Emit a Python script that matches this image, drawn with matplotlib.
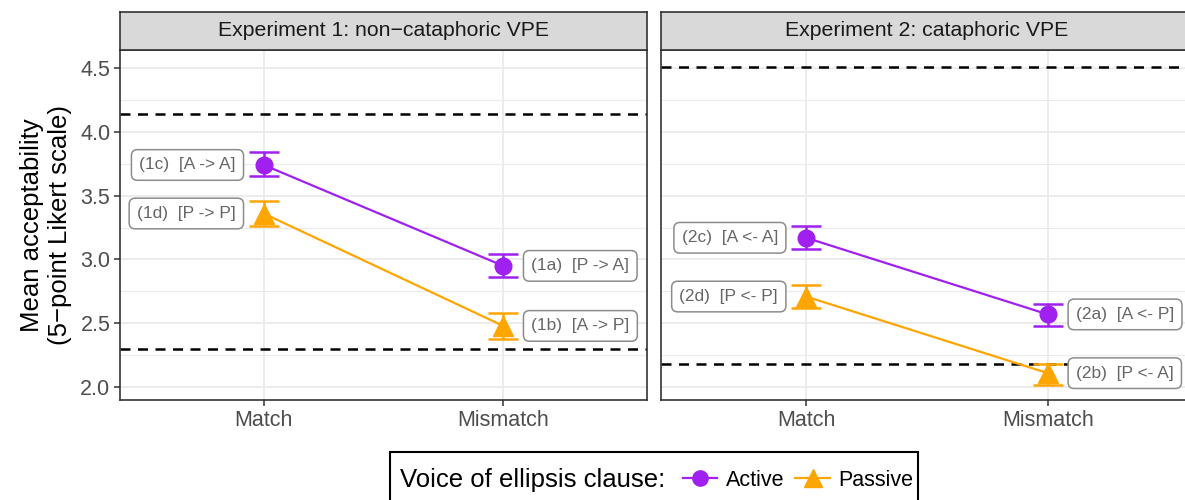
import matplotlib as mpl
import matplotlib.pyplot as plt
from matplotlib.lines import Line2D
from matplotlib.patches import Rectangle
import numpy as np

mpl.rcParams['font.family'] = ['Liberation Sans', 'DejaVu Sans']

# ---- data
conditions = ['Match', 'Mismatch']
panels = ['Experiment 1: non\u2212cataphoric VPE', 'Experiment 2: cataphoric VPE']

active_mean = [[3.74, 2.95], [3.17, 2.57]]
active_lo = [[3.65, 2.86], [3.08, 2.48]]
active_hi = [[3.84, 3.04], [3.26, 2.65]]
passive_mean = [[3.36, 2.48], [2.71, 2.11]]
passive_lo = [[3.26, 2.38], [2.62, 2.02]]
passive_hi = [[3.46, 2.58], [2.80, 2.18]]

active_labels = [['(1c)  [A -> A]', '(1a)  [P -> A]'], ['(2c)  [A <- A]', '(2a)  [A <- P]']]
passive_labels = [['(1d)  [P -> P]', '(1b)  [A -> P]'], ['(2d)  [P <- P]', '(2b)  [P <- A]']]

ref_lines = [[4.14, 2.30], [4.51, 2.18]]

PURPLE = '#A020F0'
ORANGE = '#FFA500'
W, H = 1185, 500

fig = plt.figure(figsize=(W / 100, H / 100), dpi=100)

def px(x0, y0, x1, y1):
    # pixel box -> figure fraction rect
    return [x0 / W, 1 - y1 / H, (x1 - x0) / W, (y1 - y0) / H]

panel_px = [(120, 50, 647, 400), (661, 50, 1193, 400)]
xs = np.arange(len(conditions))

for i in range(2):
    x0, y0, x1, y1 = panel_px[i]
    ax = fig.add_axes(px(x0, y0, x1, y1))
    ax.set_xlim(-0.6, 1.6)
    ax.set_ylim(1.9, 4.64)
    ax.set_yticks([2.0, 2.5, 3.0, 3.5, 4.0, 4.5])
    ax.set_yticks([2.25, 2.75, 3.25, 3.75, 4.25], minor=True)
    ax.set_xticks(xs)
    ax.set_xticklabels(conditions)
    ax.grid(which='major', color='#EBEBEB', lw=1.3)
    ax.grid(which='minor', axis='y', color='#EBEBEB', lw=0.8)
    ax.set_axisbelow(True)
    for s in ax.spines.values():
        s.set_color('#333333')
        s.set_linewidth(1.2)
    ax.tick_params(axis='both', which='major', length=4, width=1.1, color='#333333',
                   labelsize=15.5, labelcolor='#4D4D4D', pad=3)
    ax.tick_params(axis='y', which='minor', length=0)
    if i == 1:
        ax.tick_params(axis='y', which='major', length=0, labelleft=False)

    for yv in ref_lines[i]:
        ax.axhline(yv, color='black', lw=1.8, ls=(0, (4, 3)), zorder=2)

    for mean, lo, hi, col, mk, ms, labs in [
            (active_mean[i], active_lo[i], active_hi[i], PURPLE, 'o', 12, active_labels[i]),
            (passive_mean[i], passive_lo[i], passive_hi[i], ORANGE, '^', 14, passive_labels[i])]:
        m = np.array(mean)
        err = [m - np.array(lo), np.array(hi) - m]
        ax.errorbar(xs, m, yerr=err, color=col, lw=1.6, marker=mk, ms=ms,
                    capsize=11, capthick=1.8, elinewidth=1.8, zorder=4)
        for j, (xv, yv) in enumerate(zip(xs, m)):
            off = -28 if j == 0 else 28
            ax.annotate(labs[j], (xv, yv), xytext=(off, 0), textcoords='offset pixels',
                        ha='right' if j == 0 else 'left', va='center',
                        fontsize=12.5, color='#666666', zorder=5,
                        bbox=dict(boxstyle='round,pad=0.45,rounding_size=0.35',
                                  fc='white', ec='#8C8C8C', lw=1.1))

    if i == 0:
        ax.set_ylabel('Mean acceptability\n(5\u2212point Likert scale)', fontsize=18.5,
                      labelpad=6)

    # strip
    sax = fig.add_axes(px(x0, 12, x1, 50))
    sax.set_facecolor('#D9D9D9')
    sax.set_xticks([])
    sax.set_yticks([])
    for s in sax.spines.values():
        s.set_color('#333333')
        s.set_linewidth(1.2)
    sax.text(0.5, 0.5, panels[i], ha='center', va='center', fontsize=15.3,
             color='#1A1A1A', transform=sax.transAxes)

# ---- legend
fig.patches.append(Rectangle((390 / W, 1 - 520 / H), 528 / W, 68 / H,
                             transform=fig.transFigure, fc='white', ec='black', lw=1.5))
fig.text(400 / W, 1 - 480 / H, 'Voice of ellipsis clause:', fontsize=18.5,
         ha='left', va='center', color='black')
handles = [Line2D([], [], color=PURPLE, marker='o', ms=11, lw=1.6),
           Line2D([], [], color=ORANGE, marker='^', ms=13, lw=1.6)]
fig.legend(handles, ['Active', 'Passive'], loc='center left',
           bbox_to_anchor=(683 / W, 1 - 480 / H), ncol=2, frameon=False,
           fontsize=15.5, handlelength=1.6, handletextpad=0.4, columnspacing=0.5,
           borderpad=0, borderaxespad=0)

fig.savefig('out.png', dpi=100)
